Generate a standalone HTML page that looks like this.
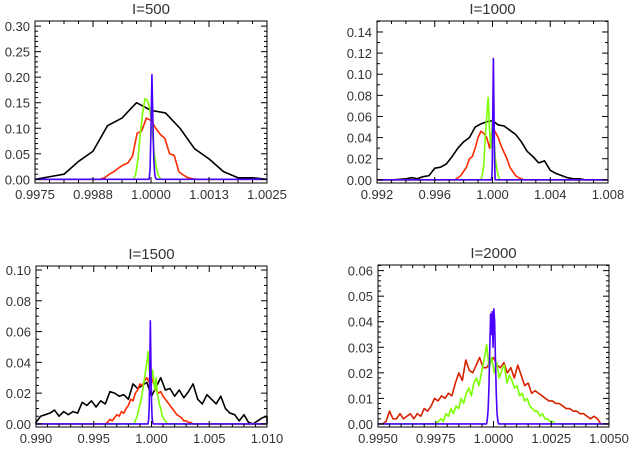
<!DOCTYPE html>
<html><head><meta charset="utf-8">
<style>
html,body{margin:0;padding:0;background:#fff;}
svg{display:block;font-family:"Liberation Sans",sans-serif;}
</style></head>
<body>
<svg id="fig" width="632" height="449" viewBox="0 0 632 449"></svg>
<script>
// Panel 1 (I=500)
const p1BlackStart=0.9975, p1BlackStep=0.0003125;
const p1Black=[0,0.005,0.01,0.035,0.055,0.105,0.12,0.15,0.135,0.13,0.10,0.06,0.04,0.015,0.003,0.003,0];
const p1RedStart=0.9989, p1RedStep=0.0001;
const p1Red=[0,0.003,0.01,0.015,0.022,0.028,0.032,0.045,0.09,0.095,0.12,0.115,0.1,0.088,0.08,0.05,0.047,0.015,0.008,0.003,0.001,0];
const p1GreenStart=0.99962, p1GreenStep=0.00005;
const p1Green=[0,0.01,0.04,0.09,0.13,0.158,0.155,0.14,0.1,0.05,0.02,0.005,0,0];
const p1BlueStart=0.99996, p1BlueStep=0.00002;
const p1Blue=[0,0.02,0.1,0.205,0.12,0.04,0.01,0.002,0];
const p1XTicks=["0.9975","0.9988","1.0000","1.0013","1.0025"];
const p1YTicks=["0.00","0.05","0.10","0.15","0.20","0.25","0.30"];

// Panel 2 (I=1000)
const p2BlackStart=0.9924, p2BlackStep=0.0004;
const p2Black=[0,0,0,0.0005,0.001,0.002,0.001,0.003,0.004,0.011,0.012,0.015,0.022,0.03,0.036,0.04,0.05,0.053,0.055,0.056,0.052,0.051,0.047,0.043,0.036,0.027,0.022,0.016,0.018,0.009,0.006,0.004,0.002,0.001,0.001,0,0];
const p2RedStart=0.9974, p2RedStep=0.0002;
const p2Red=[0,0.002,0.004,0.008,0.012,0.02,0.022,0.03,0.04,0.046,0.044,0.04,0.03,0.05,0.045,0.04,0.032,0.026,0.02,0.012,0.008,0.004,0.002,0.001,0];
const p2GreenStart=0.9992, p2GreenStep=0.0001;
const p2Green=[0,0.005,0.015,0.04,0.06,0.078,0.045,0.03,0.058,0.04,0.02,0.01,0.004,0,0,0,0];
const p2BlueStart=0.99994, p2BlueStep=0.00004;
const p2Blue=[0,0.01,0.06,0.115,0.07,0.02,0,0];
const p2XTicks=["0.992","0.996","1.000","1.004","1.008"];
const p2YTicks=["0.00","0.02","0.04","0.06","0.08","0.10","0.12","0.14"];

// Panel 3 (I=1500)
const p3BlackStart=0.990, p3BlackStep=0.0004;
const p3Black=[0.001,0.005,0.006,0.007,0.009,0.005,0.008,0.006,0.008,0.007,0.014,0.012,0.015,0.011,0.015,0.013,0.021,0.02,0.018,0.019,0.016,0.026,0.023,0.025,0.027,0.018,0.024,0.03,0.022,0.023,0.018,0.022,0.017,0.021,0.026,0.016,0.013,0.019,0.016,0.013,0.018,0.01,0.007,0.006,0.002,0.006,0.001,0.0,0.002,0.004,0.005];
const p3RedStart=0.996, p3RedStep=0.0002;
const p3Red=[0,0.001,0.003,0.002,0.004,0.006,0.005,0.008,0.007,0.01,0.012,0.016,0.015,0.02,0.022,0.026,0.025,0.028,0.03,0.027,0.03,0.026,0.022,0.02,0.021,0.018,0.016,0.014,0.012,0.01,0.008,0.006,0.005,0.004,0.002,0.002,0.001,0.001,0];
const p3GreenStart=0.9985, p3GreenStep=0.0001;
const p3Green=[0,0.002,0.004,0.006,0.01,0.012,0.016,0.02,0.025,0.03,0.035,0.04,0.047,0.035,0.038,0.03,0.035,0.028,0.022,0.03,0.02,0.016,0.012,0.01,0.006,0.004,0.003,0.002,0.001,0,0];
const p3BlueStart=0.9997, p3BlueStep=0.00005;
const p3Blue=[0,0.003,0.01,0.035,0.067,0.04,0.015,0.004,0.001,0,0,0,0];
const p3XTicks=["0.990","0.995","1.000","1.005","1.010"];
const p3YTicks=["0.00","0.02","0.04","0.06","0.08","0.10"];

// Panel 4 (I=2000)
const p4RedStart=0.9952, p4RedStep=0.00015;
const p4Red=[0,0.001,0.005,0.002,0.002,0.004,0.002,0.003,0.004,0.002,0.004,0.003,0.006,0.005,0.007,0.010,0.009,0.011,0.010,0.012,0.011,0.016,0.020,0.017,0.025,0.021,0.020,0.023,0.026,0.022,0.022,0.024,0.026,0.023,0.022,0.024,0.020,0.022,0.018,0.023,0.019,0.015,0.016,0.012,0.013,0.012,0.011,0.010,0.009,0.009,0.008,0.008,0.007,0.006,0.006,0.005,0.005,0.004,0.004,0.003,0.002,0.003,0.002,0];
const p4GreenStart=0.9975, p4GreenStep=0.00011;
const p4Green=[0,0.001,0.002,0.001,0.004,0.003,0.006,0.004,0.007,0.006,0.010,0.008,0.012,0.014,0.011,0.016,0.018,0.015,0.020,0.025,0.031,0.022,0.026,0.020,0.024,0.018,0.021,0.023,0.016,0.019,0.017,0.014,0.015,0.011,0.012,0.009,0.010,0.007,0.006,0.005,0.005,0.003,0.004,0.002,0.002,0.001,0.001,0,0];
const p4BlueStart=0.9997, p4BlueStep=0.000035;
const p4Blue=[0,0.002,0.006,0.015,0.03,0.043,0.035,0.044,0.03,0.045,0.04,0.025,0.012,0.004,0.001,0,0];
const p4XTicks=["0.9950","0.9975","1.0000","1.0025","1.0050"];
const p4YTicks=["0.00","0.01","0.02","0.03","0.04","0.05","0.06"];

const NS="http://www.w3.org/2000/svg";
const fig=document.getElementById('fig');
function mk(tag,attrs,parent){const e=document.createElementNS(NS,tag);for(const k in attrs)e.setAttribute(k,attrs[k]);(parent||fig).appendChild(e);return e;}

const panels=[
 {id:'i500',title:'I=500',L:35,R:267,T:21,B:183,xmin:0.9975,xmax:1.0025,ymin:-0.0072,ymax:0.31,xt:p1XTicks,yt:p1YTicks,xminor:4,yminor:5,
  series:[[p1BlackStart,p1BlackStep,p1Black,'#000'],[p1RedStart,p1RedStep,p1Red,'#ff2a00'],[p1GreenStart,p1GreenStep,p1Green,'#7cff00'],[p1BlueStart,p1BlueStep,p1Blue,'#4a00ff']]},
 {id:'i1000',title:'I=1000',L:377,R:608,T:21,B:183,xmin:0.992,xmax:1.008,ymin:-0.003,ymax:0.1504,xt:p2XTicks,yt:p2YTicks,xminor:4,yminor:2,
  series:[[p2BlackStart,p2BlackStep,p2Black,'#000'],[p2RedStart,p2RedStep,p2Red,'#ff2a00'],[p2GreenStart,p2GreenStep,p2Green,'#7cff00'],[p2BlueStart,p2BlueStep,p2Blue,'#4a00ff']]},
 {id:'i1500',title:'I=1500',L:36,R:267,T:266,B:427,xmin:0.990,xmax:1.010,ymin:-0.002,ymax:0.1026,xt:p3XTicks,yt:p3YTicks,xminor:5,yminor:4,
  series:[[p3BlackStart,p3BlackStep,p3Black,'#000'],[p3RedStart,p3RedStep,p3Red,'#ff2a00'],[p3GreenStart,p3GreenStep,p3Green,'#7cff00'],[p3BlueStart,p3BlueStep,p3Blue,'#4a00ff']]},
 {id:'i2000',title:'I=2000',L:378,R:609,T:265,B:427,xmin:0.995,xmax:1.005,ymin:-0.0012,ymax:0.0622,xt:p4XTicks,yt:p4YTicks,xminor:5,yminor:5,
  series:[[p4RedStart,p4RedStep,p4Red,'#d82000'],[p4GreenStart,p4GreenStep,p4Green,'#7cff00'],[p4BlueStart,p4BlueStep,p4Blue,'#4a00ff']]}
];

panels.forEach(p=>{
  const g=mk('g',{});
  
  
  const sx=v=>p.L+(v-p.xmin)/(p.xmax-p.xmin)*(p.R-p.L);
  const sy=v=>p.B-(v-p.ymin)/(p.ymax-p.ymin)*(p.B-p.T);
  const t=mk('text',{x:(p.L+p.R)/2,y:p.T-7,'text-anchor':'middle','font-size':'15',fill:'#333'},g);
  t.textContent=p.title;
  
  
  p.series.forEach((s,si)=>{
    const [st,step,vals,col]=s;
    let pts=[[p.L,sy(0)]];
    vals.forEach((v,i)=>pts.push([sx(st+i*step),sy(v)]));
    pts.push([p.R,sy(0)]);
    pts.sort((a,b)=>a[0]-b[0]);
    const pl=mk('polyline',{points:pts.map(q=>q[0].toFixed(2)+','+q[1].toFixed(2)).join(' '),fill:'none',stroke:col,'stroke-width':'1.6','stroke-linejoin':'round'},g);
    
    
  });
  const fr=mk('rect',{x:p.L,y:p.T,width:p.R-p.L,height:p.B-p.T,fill:'none',stroke:'#000','stroke-width':'1'},g);
  
  
  const nx=p.xt.length;
  for(let i=0;i<nx;i++){
    const v=p.xmin+i*(p.xmax-p.xmin)/(nx-1);const x=sx(v);
    mk('line',{x1:x,x2:x,y1:p.B,y2:p.B-6,stroke:'#000'},g);
    mk('line',{x1:x,x2:x,y1:p.T,y2:p.T+6,stroke:'#000'},g);
    const lb=mk('text',{x:x,y:p.B+16,'text-anchor':'middle','font-size':'13',fill:'#333'},g);
    lb.textContent=p.xt[i];
    
    
    if(i<nx-1){for(let k=1;k<p.xminor;k++){const xm=sx(v+k*(p.xmax-p.xmin)/(nx-1)/p.xminor);
      mk('line',{x1:xm,x2:xm,y1:p.B,y2:p.B-3,stroke:'#000'},g);mk('line',{x1:xm,x2:xm,y1:p.T,y2:p.T+3,stroke:'#000'},g);}}
  }
  const ny=p.yt.length;
  const ystep=parseFloat(p.yt[1])-parseFloat(p.yt[0]);
  for(let i=0;i<ny;i++){
    const v=parseFloat(p.yt[i]);const y=sy(v);
    mk('line',{x1:p.L,x2:p.L+6,y1:y,y2:y,stroke:'#000'},g);
    mk('line',{x1:p.R,x2:p.R-6,y1:y,y2:y,stroke:'#000'},g);
    const lb=mk('text',{x:p.L-5,y:y+5,'text-anchor':'end','font-size':'13',fill:'#333'},g);
    lb.textContent=p.yt[i];
    
    
    for(let k=1;k<p.yminor;k++){const ym=sy(v+k*ystep/p.yminor);if(ym<p.T)break;
      mk('line',{x1:p.L,x2:p.L+3,y1:ym,y2:ym,stroke:'#000'},g);mk('line',{x1:p.R,x2:p.R-3,y1:ym,y2:ym,stroke:'#000'},g);}
  }
});
</script>
</body></html>
